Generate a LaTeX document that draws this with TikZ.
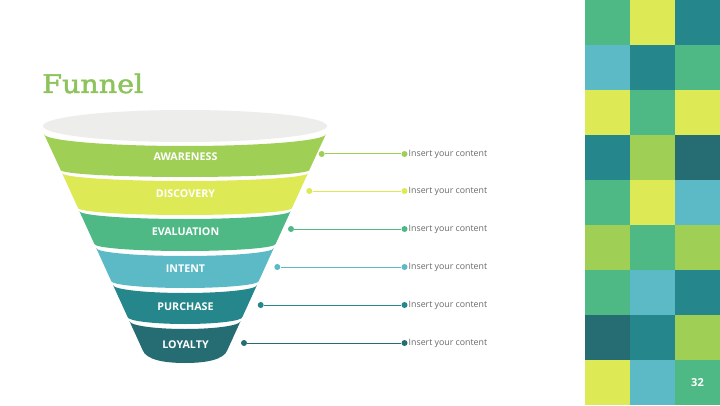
\documentclass[tikz,border=0pt]{standalone}
\usepackage{fontspec}
\setmainfont{Open Sans}
\newfontfamily\titlefont[FakeBold=1.6]{DejaVu Serif}
\definecolor{clime}{HTML}{A0CF55}
\definecolor{cyel}{HTML}{DEE956}
\definecolor{cgrn}{HTML}{4EB985}
\definecolor{cblue}{HTML}{5BBAC6}
\definecolor{cteal}{HTML}{25868B}
\definecolor{cdteal}{HTML}{256C73}
\definecolor{ctitle}{HTML}{8CC35A}
\definecolor{cgray}{HTML}{EDEDEB}
\definecolor{ctext}{HTML}{6A6A6A}
\tikzset{
  bandlabel/.style={text=white,font=\fontsize{10.7}{12}\selectfont\bfseries,inner sep=0pt},
  dotnode/.style={circle,fill=#1,inner sep=0pt,minimum size=6pt},
  conn/.style={draw=#1,line width=1pt},
  content/.style={text=ctext,font=\fontsize{8.8}{10}\selectfont,anchor=west,inner sep=0pt},
  tile/.style={fill=#1,draw=none}
}
\begin{document}
\begin{tikzpicture}[x=1pt,y=1pt]
\useasboundingbox (0,0) rectangle (720,405);
\fill[white] (0,0) rectangle (720,405);

% mosaic
\foreach \r/\a/\b/\c in {0/cgrn/cyel/cteal,1/cblue/cteal/cgrn,2/cyel/cgrn/cyel,3/cteal/clime/cdteal,4/cgrn/cyel/cblue,5/clime/cgrn/clime,6/cgrn/cblue/cteal,7/cdteal/cteal/clime,8/cyel/cblue/cgrn}{
  \fill[tile=\a] (585,{405-45*\r}) rectangle (630,{360-45*\r});
  \fill[tile=\b] (630,{405-45*\r}) rectangle (675,{360-45*\r});
  \fill[tile=\c] (675,{405-45*\r}) rectangle (720,{360-45*\r});
}
\node[text=white,font=\fontsize{11}{12}\selectfont\bfseries] (pg) at (697.5,22.5) {32};

% title
\node[anchor=base west,inner sep=0pt,text=ctitle,font=\titlefont\fontsize{25.5}{28}\selectfont] (title) at (42,312) {\scalebox{1.12}[1]{Funnel}};

% funnel top
\fill[cgray] (185,279) ellipse[x radius=142pt,y radius=16pt];

% bands
\fill[clime] (44,271) -- (60.7,235) arc[start angle=180,end angle=360,x radius=124.3pt,y radius=7pt] -- (326,271) arc[start angle=0,end angle=-180,x radius=141pt,y radius=12pt] -- cycle;
\fill[cyel] (62,232) -- (78,197) arc[start angle=180,end angle=360,x radius=107pt,y radius=7pt] -- (308,232) arc[start angle=0,end angle=-180,x radius=123pt,y radius=8pt] -- cycle;
\fill[cgrn] (79.3,194) -- (94.4,161) arc[start angle=180,end angle=360,x radius=90.6pt,y radius=7pt] -- (290.7,194) arc[start angle=0,end angle=-180,x radius=105.7pt,y radius=8pt] -- cycle;
\fill[cblue] (96.2,157) -- (111.2,124) arc[start angle=180,end angle=360,x radius=73.8pt,y radius=7pt] -- (273.8,157) arc[start angle=0,end angle=-180,x radius=88.8pt,y radius=8pt] -- cycle;
\fill[cteal] (113,120) -- (127.6,88) arc[start angle=180,end angle=360,x radius=57.4pt,y radius=7pt] -- (257,120) arc[start angle=0,end angle=-180,x radius=72pt,y radius=8pt] -- cycle;
\fill[cdteal] (129.4,84) -- (142.6,55) .. controls (146,45) and (165,42) .. (185,42) .. controls (205,42) and (224,45) .. (227.4,55) -- (240.6,84) arc[start angle=0,end angle=-180,x radius=55.6pt,y radius=8pt] -- cycle;

\node[bandlabel] (b1) at (185.5,248) {AWARENESS};
\node[bandlabel] (b2) at (185.5,211) {DISCOVERY};
\node[bandlabel] (b3) at (185.5,173) {EVALUATION};
\node[bandlabel] (b4) at (185.5,136) {INTENT};
\node[bandlabel] (b5) at (185.5,98) {PURCHASE};
\node[bandlabel] (b6) at (185.5,60) {LOYALTY};

% connectors
\foreach \i/\xl/\yy/\col in {1/321.7/251/clime,2/309.3/214/cyel,3/291/176/cgrn,4/277.3/138/cblue,5/260.7/100/cteal,6/244/62/cdteal}{
  \node[dotnode=\col] (dL\i) at (\xl,\yy) {};
  \node[dotnode=\col] (dR\i) at (404.5,\yy) {};
  \draw[conn=\col] (dL\i) -- (dR\i);
  \node[content] (t\i) at (408.5,\yy) {Insert your content};
}
\end{tikzpicture}
\end{document}
